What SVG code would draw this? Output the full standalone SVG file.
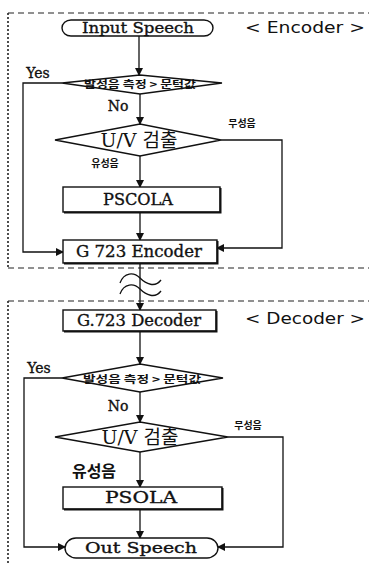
<svg xmlns="http://www.w3.org/2000/svg" width="369" height="563" viewBox="0 0 369 563">
<defs>
<marker id="ah" markerWidth="8" markerHeight="8" refX="7" refY="4" orient="auto" markerUnits="userSpaceOnUse">
<path d="M0,0 L8,4 L0,8 Z" fill="#111"/>
</marker>
<style>
.ln{fill:none;stroke:#111;stroke-width:1.3}
.bx{fill:#fff;stroke:#111;stroke-width:1.4}
.sh{fill:none;stroke:#111;stroke-width:2}
.dash{fill:none;stroke:#222;stroke-width:1.2;stroke-dasharray:6 4}
.dot{fill:none;stroke:#222;stroke-width:1.6;stroke-dasharray:2 2}
.sf{font-family:"DejaVu Serif","Liberation Serif",serif;fill:#111;text-anchor:middle;stroke:#111;stroke-width:0.35}
.uv{font-family:"DejaVu Serif","Liberation Serif",serif;fill:#111;text-anchor:middle}
.ss{font-family:"DejaVu Sans","Liberation Sans",sans-serif;fill:#111}
.kr{font-family:"Noto Sans CJK KR","Noto Sans",sans-serif;fill:#111;font-weight:bold;text-anchor:middle}
</style>
</defs>
<rect width="369" height="563" fill="#fff"/>

<g id="frames">
<path class="dash" d="M8,13 H369 M8,268 H369 M8,301 H369"/>
<path class="dot" d="M8,13 V268 M8,301 V563"/>
</g>

<g id="connectors">
<path class="ln" d="M139,36 V75" marker-end="url(#ah)"/>
<path class="ln" d="M62,83 H23 V252 H63" marker-end="url(#ah)"/>
<path class="ln" d="M140,94 V124" marker-end="url(#ah)"/>
<path class="ln" d="M221,140 H282 V248 H217" marker-end="url(#ah)"/>
<path class="ln" d="M140,156 V187" marker-end="url(#ah)"/>
<path class="ln" d="M140,212 V240" marker-end="url(#ah)"/>
<path class="ln" d="M140,263 V310" marker-end="url(#ah)"/>
<path class="ln" d="M120,283 C124,272 134,272 140,278 S155,288 161,280"/>
<path class="ln" d="M120,294 C124,283 134,283 140,289 S155,299 161,291"/>
<path class="ln" d="M140,331 V364" marker-end="url(#ah)"/>
<path class="ln" d="M62,378 H24 V547 H65" marker-end="url(#ah)"/>
<path class="ln" d="M140,392 V422" marker-end="url(#ah)"/>
<path class="ln" d="M228,437 H283 V547 H218" marker-end="url(#ah)"/>
<path class="ln" d="M140,452 V487" marker-end="url(#ah)"/>
<path class="ln" d="M140,509 V538" marker-end="url(#ah)"/>
</g>

<g id="input-speech">
<rect class="bx" x="62" y="20" width="151" height="16" rx="9" ry="8"/>
<text class="sf" x="138" y="33" font-size="15.5" textLength="112" lengthAdjust="spacingAndGlyphs">Input Speech</text>
</g>
<g id="encoder-label">
<text class="ss" x="245" y="33" font-size="15" textLength="120" lengthAdjust="spacingAndGlyphs">&lt; Encoder &gt;</text>
</g>
<g id="enc-threshold">
<polygon class="bx" points="62,83 140,75 222,83 140,94"/>
<text class="kr" x="140" y="88" font-size="10.5" textLength="112" lengthAdjust="spacingAndGlyphs">발성음 측정 &gt; 문턱값</text>
<text class="sf" x="38" y="78" font-size="14">Yes</text>
<text class="sf" x="118" y="111" font-size="14">No</text>
</g>
<g id="enc-uv">
<polygon class="bx" points="55,140 140,124 221,140 140,156"/>
<text class="uv" x="139" y="147" font-size="19">U/V <tspan font-family="Noto Sans CJK KR,sans-serif">검출</tspan></text>
<text class="kr" x="242" y="127" font-size="10">무성음</text>
<text class="kr" x="105" y="167" font-size="10">유성음</text>
</g>
<g id="enc-pscola">
<rect class="bx" x="63" y="187" width="157" height="25"/>
<path class="sh" d="M64,212.5 H220.5 V188"/>
<text class="sf" x="138" y="205" font-size="16" textLength="70" lengthAdjust="spacingAndGlyphs">PSCOLA</text>
</g>
<g id="g723-encoder">
<rect class="bx" x="63" y="240" width="154" height="23"/>
<path class="sh" d="M64,263.5 H217.5 V241"/>
<text class="sf" x="139" y="257" font-size="16" textLength="126" lengthAdjust="spacingAndGlyphs">G 723 Encoder</text>
</g>

<g id="g723-decoder">
<rect class="bx" x="63" y="310" width="153" height="21"/>
<path class="sh" d="M64,331.5 H216.5 V311"/>
<text class="sf" x="139" y="326" font-size="16" textLength="124" lengthAdjust="spacingAndGlyphs">G.723 Decoder</text>
</g>
<g id="decoder-label">
<text class="ss" x="245" y="324" font-size="15" textLength="120" lengthAdjust="spacingAndGlyphs">&lt; Decoder &gt;</text>
</g>
<g id="dec-threshold">
<polygon class="bx" points="62,378 140,364 223,378 140,392"/>
<text class="kr" x="142" y="383" font-size="10.5" textLength="118" lengthAdjust="spacingAndGlyphs">발성음 측정 &gt; 문턱값</text>
<text class="sf" x="39" y="373" font-size="14">Yes</text>
<text class="sf" x="118" y="411" font-size="14">No</text>
</g>
<g id="dec-uv">
<polygon class="bx" points="55,437 140,422 228,437 140,452"/>
<text class="uv" x="140" y="444" font-size="19">U/V <tspan font-family="Noto Sans CJK KR,sans-serif">검출</tspan></text>
<text class="kr" x="248" y="429" font-size="10">무성음</text>
<text class="kr" x="94" y="477" font-size="16">유성음</text>
</g>
<g id="dec-psola">
<rect class="bx" x="63" y="487" width="159" height="22"/>
<path class="sh" d="M64,509.5 H222.5 V488"/>
<text class="sf" x="141" y="503" font-size="16" textLength="72" lengthAdjust="spacingAndGlyphs">PSOLA</text>
</g>
<g id="out-speech">
<rect class="bx" x="65" y="538" width="153" height="20" rx="11" ry="10"/>
<text class="sf" x="141" y="553" font-size="15.5" textLength="112" lengthAdjust="spacingAndGlyphs">Out Speech</text>
</g>
</svg>
